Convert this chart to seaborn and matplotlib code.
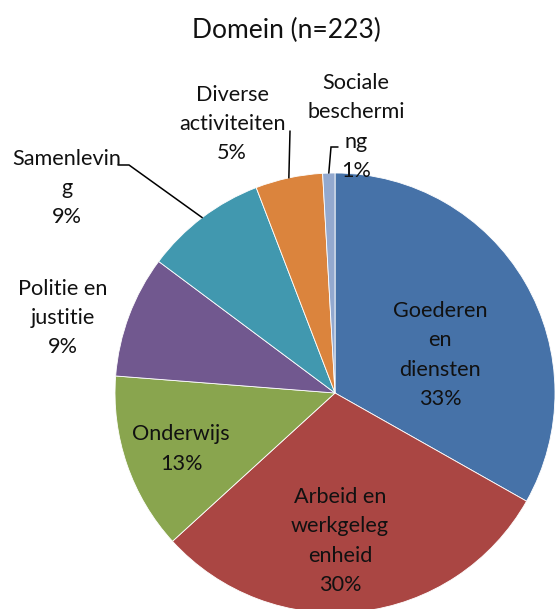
import numpy as np
import matplotlib
matplotlib.use("Agg")
import matplotlib.pyplot as plt
import seaborn as sns

categories = ["Goederen en diensten", "Arbeid en werkgelegenheid", "Onderwijs",
              "Politie en justitie", "Samenleving", "Diverse activiteiten",
              "Sociale bescherming"]
label_texts = ["Goederen\nen\ndiensten", "Arbeid en\nwerkgeleg\nenheid", "Onderwijs",
               "Politie en\njustitie", "Samenlevin\ng", "Diverse\nactiviteiten",
               "Sociale\nbeschermi\nng"]
counts = [74, 67, 29, 20, 20, 11, 2]
colors = ["#4672A8", "#AA4643", "#89A54E", "#71588F", "#4198AF", "#DB843D", "#93A9CF"]
title = "Domein (n=223)"

sns.set_style("white")
plt.rcParams['font.family'] = ['Lato', 'DejaVu Sans']

W, H = 557, 609
fig = plt.figure(figsize=(W / 100, H / 100), dpi=100)
cx, cy, R = 335, 393, 220
ax = fig.add_axes([(cx - R) / W, (H - cy - R) / H, 2 * R / W, 2 * R / H])
ax.axis("off")

wedges, _ = ax.pie(counts, colors=sns.color_palette(colors), startangle=90,
                   counterclock=False, radius=1,
                   wedgeprops=dict(linewidth=0.6, edgecolor="white"))
ax.set_xlim(-1, 1)
ax.set_ylim(-1, 1)

total = sum(counts)
pcts = [f"{round(100 * c / total)}%" for c in counts]

def px(x, y):
    return ((x - cx) / R, (cy - y) / R)

# label centers in pixel positions (layout)
label_pos = [(440, 355), (340, 541), (181, 449), (63, 318), (67, 188), (232, 124), (356, 127)]
fs = 15.6
for txt, p, (lx, ly) in zip(label_texts, pcts, label_pos):
    x, y = px(lx, ly)
    ax.text(x, y, f"{txt}\n{p}", ha="center", va="center", fontsize=fs,
            linespacing=1.58, color="#111111", clip_on=False)

def mid_point(w, r=1.0):
    a = np.deg2rad((w.theta1 + w.theta2) / 2)
    return r * np.cos(a), r * np.sin(a)

lk = dict(color="black", lw=1.1, clip_on=False, solid_joinstyle="miter")
# Samenleving leader
mx, my = mid_point(wedges[4])
x0, y0 = px(118, 165)
x1, y1 = px(129, 165)
ax.plot([x0, x1, mx], [y0, y1, my], **lk)
# Diverse leader
mx, my = mid_point(wedges[5])
x0, y0 = px(290, 131)
ax.plot([x0, mx], [y0, my], **lk)
# Sociale leader
mx, my = mid_point(wedges[6])
x0, y0 = px(338, 147)
x1, y1 = px(331, 147)
ax.plot([x0, x1, mx], [y0, y1, my], **lk)

fig.text(286 / W, 1 - 30 / H, title, ha="center", va="center", fontsize=19, color="#111111")

fig.savefig("out.png", dpi=100)
